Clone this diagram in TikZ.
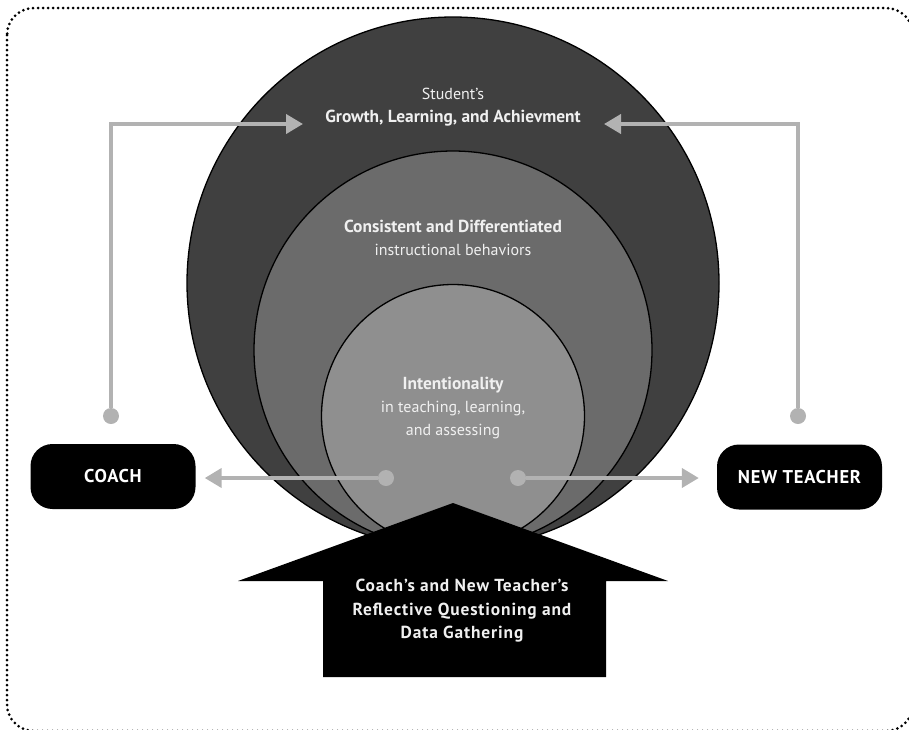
\documentclass[tikz,border=0pt]{standalone}
\usepackage{fontspec}
\setmainfont{PT Sans}
\usetikzlibrary{arrows.meta}
\definecolor{ringouter}{gray}{0.25}
\definecolor{ringmid}{gray}{0.42}
\definecolor{ringin}{gray}{0.56}
\definecolor{linkgray}{gray}{0.70}
\definecolor{softwhite}{gray}{0.94}
\newcommand{\bigbf}[1]{{\fontsize{17.4}{23}\selectfont\bfseries #1}}
\begin{document}
\begin{tikzpicture}[x=1pt, y=-1pt,
  ring/.style={draw=black, line width=1.3pt},
  link/.style={draw=linkgray, line width=4pt},
  linkarrow/.style={link, -{Triangle[length=17pt,width=19pt]}},
  endpt/.style={circle, fill=linkgray, inner sep=0pt, minimum size=16pt},
  rolebox/.style={fill=black, rounded corners=22pt, minimum width=165pt, minimum height=65pt,
    text=white, font=\fontsize{18.5}{20}\selectfont\bfseries\addfontfeatures{LetterSpace=4}},
  ringtext/.style={text=softwhite, align=center, font=\fontsize{16}{23}\selectfont},
  arrowtext/.style={text=softwhite, align=center, font=\fontsize{17.4}{23.5}\selectfont\bfseries\addfontfeatures{LetterSpace=5}}]
\useasboundingbox (0,0) rectangle (909,729);

% frame
\draw[line width=3pt, dash pattern=on 0pt off 5pt, line cap=round, rounded corners=27pt]
  (7,8) rectangle (913,731);

% rings
\filldraw[ring, fill=ringouter] (453,283) circle (266pt);
\filldraw[ring, fill=ringmid] (453,350) circle (199pt);
\filldraw[ring, fill=ringin] (453,416) circle (131.5pt);

% big arrow
\fill[black] (323,677) -- (323,581) -- (238,581) -- (453,503) -- (668,581)
  -- (606,581) -- (606,677) -- cycle;
\node[arrowtext] (reflect) at (462,611)
  {Coach’s and New Teacher’s\\Reflective Questioning and\\Data Gathering};

% ring labels
\node[ringtext] (growth) at (453,107) {Student’s\\\bigbf{Growth, Learning, and Achievment}};
\node[ringtext] (consist) at (453,238) {\bigbf{Consistent and Differentiated}\\instructional behaviors};
\node[ringtext] (intent) at (453,408) {\bigbf{Intentionality}\\in teaching, learning,\\and assessing};

% coach and new teacher
\node[rolebox] (coach) at (113,476.5) {COACH};
\node[rolebox] (newt) at (799.5,477) {NEW TEACHER};

% links
\node[endpt] (cdot) at (386,478) {};
\node[endpt] (tdot) at (518,478) {};
\node[endpt] (cup) at (111,416) {};
\node[endpt] (tup) at (798,416) {};
\coordinate (gleft) at (303,124);
\coordinate (gright) at (604,124);

\draw[linkarrow] (cup) |- (gleft);
\draw[linkarrow] (tup) |- (gright);
\draw[linkarrow, shorten >=9pt] (cdot) -- (coach.east |- cdot);
\draw[linkarrow, shorten >=18pt] (tdot) -- (newt.west |- tdot);
\end{tikzpicture}
\end{document}
